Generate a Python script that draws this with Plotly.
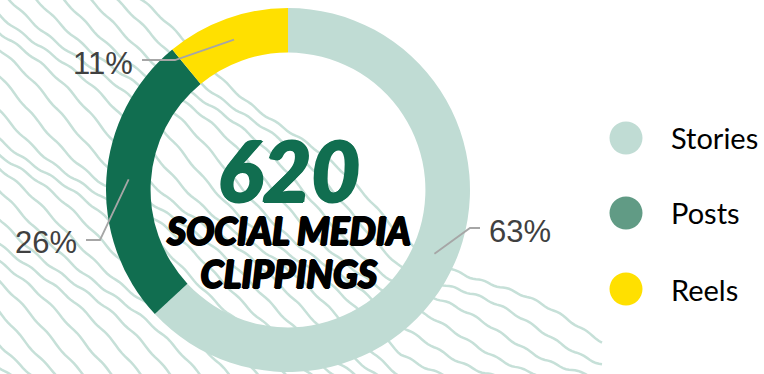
import numpy as np
import plotly.graph_objects as go

# ---------------- data ----------------
categories = ["Stories", "Posts", "Reels"]
values = [391, 161, 68]
total_label = "620"
subtitle_lines = ["SOCIAL MEDIA", "CLIPPINGS"]

ring_colors = ["#c0dcd4", "#116e50", "#ffe000"]
legend_colors = ["#c0dcd4", "#619b85", "#ffe000"]

W, H = 764, 374
def px(x):
    return x / W
def py(y):
    return 1 - y / H

# pie geometry (pixels)
CX, CY, R_OUT, HOLE = 288, 190, 182, 0.755

fig = go.Figure()
fig.add_trace(go.Pie(
    labels=categories, values=values, sort=False, direction="clockwise", rotation=0,
    hole=HOLE, marker=dict(colors=ring_colors, line=dict(width=0)),
    textinfo="none", hoverinfo="label+percent", showlegend=False,
    domain=dict(x=[px(CX - R_OUT), px(CX + R_OUT)], y=[py(CY + R_OUT), py(CY - R_OUT)]),
))

shapes = []
# decorative topographic background lines
for k, c in enumerate(range(-125, 380, 23)):
    xs = np.arange(-10, 604, 3.0)
    g = np.where(xs <= 400, 0.9 * xs, 360 + 0.5 * (xs - 400))
    ys = (c + g + 7 * np.sin(xs / 31 + 1.3 * k) + 5 * np.sin(xs / 67 + 0.7 * k)
          + 1.0 * np.sin(xs / 4.1 + k))
    m = (ys > -10) & (ys < 385)
    if m.sum() < 2:
        continue
    pts = [f"{px(x):.5f},{py(y):.5f}" for x, y in zip(xs[m], ys[m])]
    shapes.append(dict(type="path", xref="paper", yref="paper", layer="below",
                       path="M" + " L".join(pts),
                       line=dict(color="#c6e0d8", width=2.5)))

annotations = []
# percentage labels with leader lines
tot = sum(values)
r_mid = R_OUT * (1 + HOLE) / 2
elbows = [(470, 228), (100, 240), (175, 60)]
ends = [(480, 228), (86, 240), (142, 60)]
label_pos = [(487, 231, "left"), (79, 242, "right"), (135, 63, "right")]
cum = 0
for i, v in enumerate(values):
    th = 2 * np.pi * (cum + v / 2) / tot
    cum += v
    ax, ay = CX + r_mid * np.sin(th), CY - r_mid * np.cos(th)
    (ex, ey), (fx, fy) = elbows[i], ends[i]
    shapes.append(dict(type="path", xref="paper", yref="paper",
                       path=f"M{px(ax)},{py(ay)} L{px(ex)},{py(ey)} L{px(fx)},{py(fy)}",
                       line=dict(color="#a6a6a6", width=1.8)))
    lx, ly, anc = label_pos[i]
    annotations.append(dict(x=px(lx), y=py(ly), xref="paper", yref="paper",
                            text=f"{round(100 * v / tot)}%", showarrow=False,
                            xanchor=anc, yanchor="middle",
                            font=dict(family="Liberation Sans, Arial", size=31, color="#404040")))

# center text: one annotation, three lines
g_style = ("font-size:84px;fill:#116e50;color:#116e50;"
           "text-shadow:1.2px 0 0 #116e50,-1.2px 0 0 #116e50,0 1px 0 #116e50,0 -1px 0 #116e50")
k_style = ("font-size:37px;fill:#000;color:#000;"
           "text-shadow:1px 0 0 #000,-1px 0 0 #000,0 0.8px 0 #000,0 -0.8px 0 #000")
center_text = (f'<span style="{g_style}">{total_label}</span><br>'
               + "<br>".join(f'<span style="{k_style}">{t}</span>' for t in subtitle_lines))
annotations.append(dict(x=px(CX), y=py(207), xref="paper", yref="paper", text=center_text,
                        showarrow=False, xanchor="center", yanchor="middle",
                        font=dict(family="Lato", size=33, weight=900, style="italic",
                                  color="#000000")))

# custom legend
leg_y = [138, 213, 289]
for i, name in enumerate(categories):
    shapes.append(dict(type="circle", xref="paper", yref="paper",
                       x0=px(626 - 16.5), x1=px(626 + 16.5), y0=py(leg_y[i] + 16.5), y1=py(leg_y[i] - 16.5),
                       fillcolor=legend_colors[i], line=dict(width=0)))
    annotations.append(dict(x=px(669), y=py(leg_y[i]), xref="paper", yref="paper", text=name,
                            showarrow=False, xanchor="left", yanchor="middle",
                            font=dict(family="Lato", size=29, color="#000000")))

fig.update_layout(width=W, height=H, margin=dict(l=0, r=0, t=0, b=0),
                  paper_bgcolor="white", plot_bgcolor="white",
                  shapes=shapes, annotations=annotations)
fig.write_html("out.html")
